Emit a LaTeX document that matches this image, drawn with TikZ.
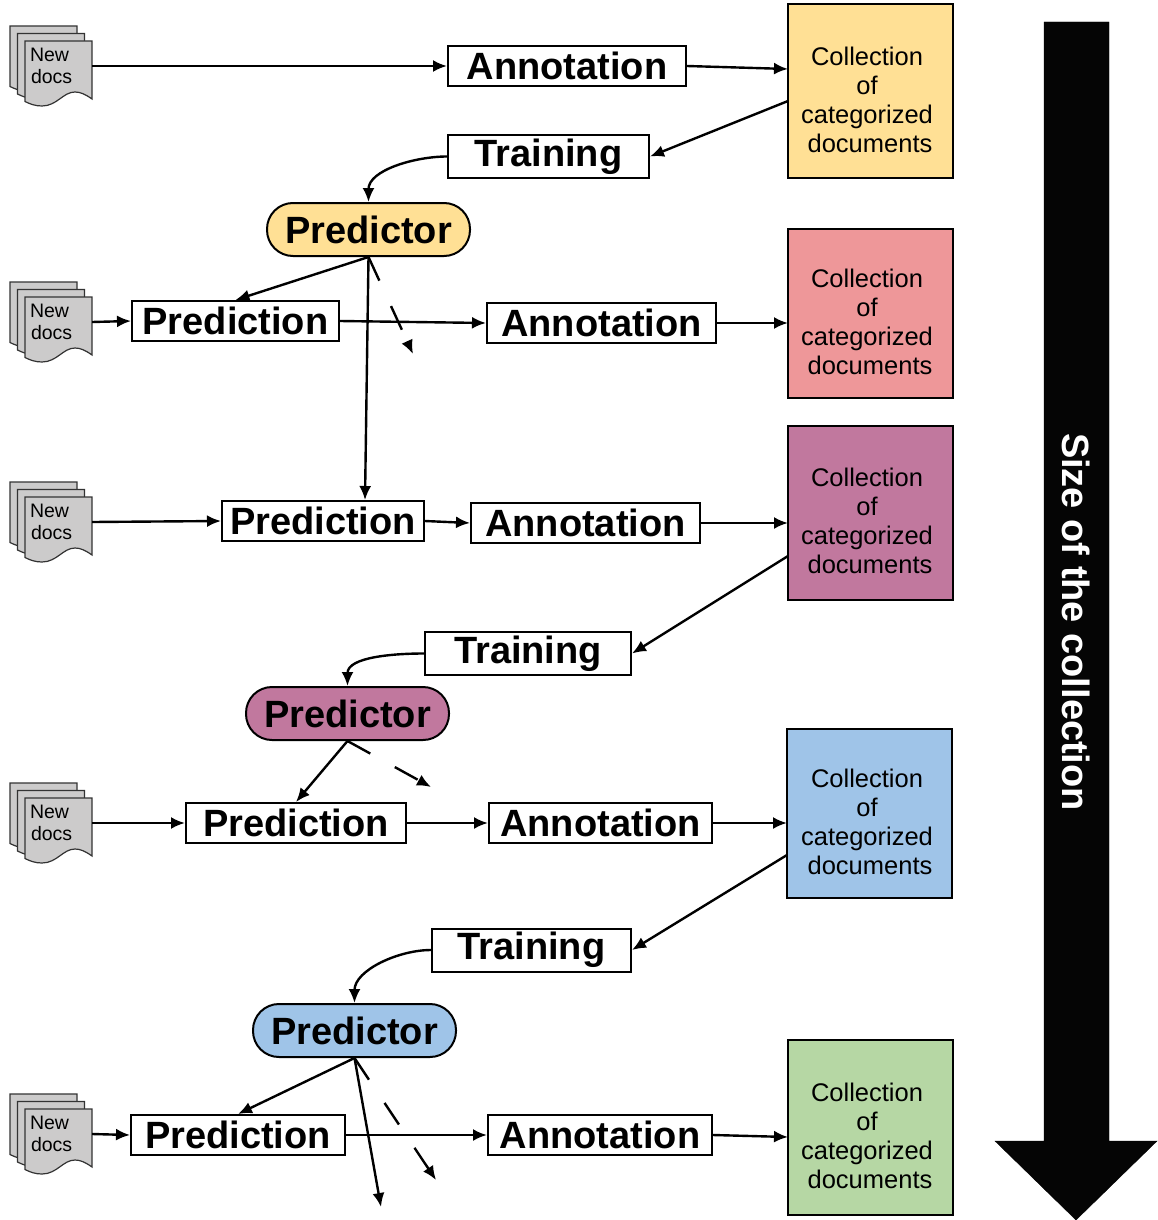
\documentclass[tikz,border=0pt]{standalone}
\usepackage{fontspec}
\setmainfont{Liberation Sans}
\usetikzlibrary{arrows.meta,shapes.geometric}
\definecolor{collYellow}{HTML}{FFE095}
\definecolor{collRed}{HTML}{EE9799}
\definecolor{collPurple}{HTML}{C1789E}
\definecolor{collBlue}{HTML}{9FC4E8}
\definecolor{collGreen}{HTML}{B6D7A4}
\definecolor{sheetGrey}{HTML}{CCCBCB}
\tikzset{
  stepbox/.style={draw,line width=2pt,fill=white,inner sep=0pt,font=\fontsize{38}{38}\selectfont\bfseries},
  predictor/.style={draw,line width=2pt,rounded corners=26pt,inner sep=0pt,minimum width=203pt,minimum height=53pt,font=\fontsize{38}{38}\selectfont\bfseries},
  flow/.style={line width=2.4pt,-{Latex[length=14pt,width=12pt]}},
  maybe/.style={flow,dash pattern=on 26pt off 28pt},
  collection/.style={draw,line width=2pt,cylinder,shape border rotate=90,shape aspect=4.2,inner sep=0pt,outer sep=0pt,minimum width=165pt},
  sheet/.style={draw=black!80,line width=1.2pt,fill=sheetGrey},
  docstack/.pic={
    \foreach \s in {0,7.5,15}
      \draw[sheet,shift={(\s,\s)}] (0,0) -- (67,0) -- (67,58) .. controls (60,53) and (55,51) .. (50,51)
        .. controls (38,51) and (32,65) .. (17,65) .. controls (10,65) and (5,63) .. (0,60.5) -- cycle;
  }
}
\begin{document}
\begin{tikzpicture}[x=1pt,y=-1pt]
\useasboundingbox (0,0) rectangle (1157,1220);
\draw[fill=black!98] (1044,22) -- (1109,22) -- (1109,1141) -- (1157,1141) -- (1076,1220) -- (995,1141) -- (1044,1141) -- cycle;
\node[rotate=-90,text=white,font=\fontsize{38}{38}\selectfont\bfseries] (sizelabel) at (1076,622) {Size of the collection};
\foreach \Y [count=\X] in {26,282,482,783,1094}
{\pic at (10,\Y) {docstack};
\node[inner sep=0pt,inner xsep=2.5pt,text width=62pt,align=left,minimum height=50pt,font=\fontsize{19.5}{22}\selectfont] (docs\X) at (58.5,\Y+40) {\hspace*{2.5pt}New\\\hspace*{3.5pt}docs};
}
\foreach \C/\Left/\Top/\H [count=\X] in {collYellow/788/5/173,collRed/788/229/169,collPurple/788/426/174,collBlue/787/729/169,collGreen/788/1040/175}
{\node[collection,fill=\C,minimum height=\H pt] (coll\X) at (\Left+82.5,\Top+\H/2) {};
\node[inner sep=0pt,align=center,font=\fontsize{25.5}{29}\selectfont] (text\X) at (867,\Top+\H/2+8) {Collection\\of\\categorized\\\hspace*{6pt}documents};
}
\foreach \X/\A/\B/\Y in {1/448/686/66,2/487/716/323,3/471/700/523,4/489/712/823,5/488/712/1135}
\node[stepbox,minimum width=\B pt-\A pt,minimum height=40pt] (annot\X) at ({(\A+\B)/2},\Y) {Annotation};
\foreach \X/\A/\B/\Y in {2/132/339/321,3/222/424/521,4/186/406/823,5/131/345/1135}
\node[stepbox,minimum width=\B pt-\A pt,minimum height=40pt] (pred\X) at ({(\A+\B)/2},\Y) {Prediction};
\foreach \X/\A/\B/\Y in {1/448/649/156.5,3/425/631/653.5,4/432/631/950}
\node[stepbox,minimum width=\B pt-\A pt,minimum height=43pt] (train\X) at ({(\A+\B)/2},\Y) {Training};
\node[predictor,fill=collYellow] (model1) at (368.5,229.5) {Predictor};
\node[predictor,fill=collPurple] (model3) at (347.5,713.5) {Predictor};
\node[predictor,fill=collBlue] (model4) at (354.5,1030.5) {Predictor};
\coordinate (in1) at (788,69);
\coordinate (out1) at (788,101);
\coordinate (in2) at (788,323);
\coordinate (in3) at (788,523);
\coordinate (out3) at (788,556);
\coordinate (in4) at (787,823);
\coordinate (out4) at (787,855);
\coordinate (in5) at (788,1137);
\coordinate (skip1) at (365,500);
\coordinate (skip4) at (381,1207);
\coordinate (dash1) at (413,354);
\coordinate (dash3) at (431,787);
\coordinate (dash4) at (436,1180);
\foreach \X in {1,2,3,4,5}
\draw[flow] (annot\X.east) -- (in\X);
\draw[flow] (docs1.east) -- (annot1.west);
\foreach \X in {2,3,4,5}
{\draw[flow] (docs\X.east) -- (pred\X.west);
\draw[flow] (pred\X.east) -- (annot\X.west);
}
\foreach \X in {1,3,4}
{\draw[flow] (out\X) -- (train\X.east);
\draw[flow] (train\X.west) to[out=180,in=90,looseness=0.9] (model\X.north);
\draw[maybe] (model\X.south) -- (dash\X);
}
\draw[flow] (model1.south) -- (pred2.north);
\draw[flow] (model1.south) -- (skip1);
\draw[flow] (model3.south) -- (pred4.north);
\draw[flow] (model4.south) -- (pred5.north);
\draw[flow] (model4.south) -- (skip4);
\end{tikzpicture}
\end{document}
